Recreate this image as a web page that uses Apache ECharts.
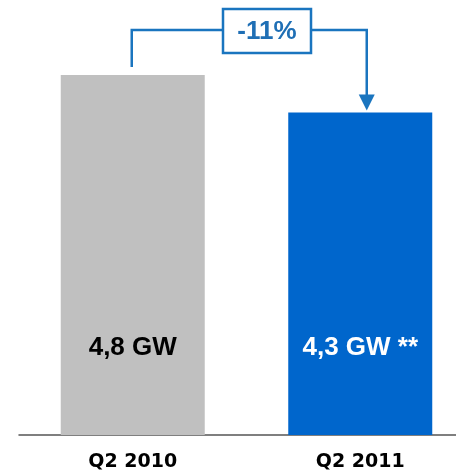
<!DOCTYPE html>
<html><head><meta charset="utf-8">
<script src="https://cdn.jsdelivr.net/npm/echarts@6/dist/echarts.min.js"></script>
<style>html,body{margin:0;padding:0;background:#fff}#c{width:456px;height:472px}</style>
</head><body><div id="c"></div>
<script>
var categories = ['Q2 2010', 'Q2 2011'];
var values = [4.8, 4.3];
var barColors = ['#c0c0c0', '#0066cc'];
var labelColors = ['#000000', '#ffffff'];
var labelSuffix = ['', ' **'];
var changeLabel = '-11%';

var chart = echarts.init(document.getElementById('c'));
var FONT = '"Liberation Sans", Arial, sans-serif';
chart.setOption({
  animation: false,
  grid: {left: 19, width: 455, top: 0, bottom: 37, outerBoundsMode: 'none', containLabel: false},
  xAxis: {
    type: 'category', data: categories,
    axisLine: {lineStyle: {color: '#555555', width: 1.5}},
    axisTick: {show: false},
    axisLabel: {color: '#000', fontFamily: '"DejaVu Sans", sans-serif', fontWeight: 'bold', fontSize: 19, margin: 18}
  },
  yAxis: {type: 'value', min: 0, max: 5.8, show: false, splitLine: {show: false}},
  series: [{
    type: 'bar', barWidth: 144,
    data: values.map(function (v, i) {
      return {value: v, itemStyle: {color: barColors[i]},
        label: {color: labelColors[i], formatter: String(v).replace('.', ',') + ' GW' + labelSuffix[i]}};
    }),
    label: {show: true, position: 'insideBottom', distance: 74, fontFamily: FONT, fontWeight: 'bold', fontSize: 26}
  }]
});

var p0 = chart.convertToPixel({xAxisIndex: 0, yAxisIndex: 0}, [0, values[0]]);
var p1 = chart.convertToPixel({xAxisIndex: 0, yAxisIndex: 0}, [1, values[1]]);
var lc = '#1a75bf';
var xl = p0[0] - 1, xr = p1[0] + 6.5, yTop = 30;
var boxL = 223, boxR = 311, boxT = 9, boxB = 53;
chart.setOption({
  graphic: [
    {type: 'polyline', shape: {points: [[xl, p0[1] - 8], [xl, yTop], [boxL, yTop]]}, style: {stroke: lc, lineWidth: 2.5, fill: null}},
    {type: 'polyline', shape: {points: [[boxR, yTop], [xr, yTop], [xr, p1[1] - 16]]}, style: {stroke: lc, lineWidth: 2.5, fill: null}},
    {type: 'polygon', shape: {points: [[xr - 8, p1[1] - 18], [xr + 8, p1[1] - 18], [xr, p1[1] - 2]]}, style: {fill: lc}},
    {type: 'rect', shape: {x: boxL, y: boxT, width: boxR - boxL, height: boxB - boxT}, style: {stroke: lc, lineWidth: 2.5, fill: '#fff'}},
    {type: 'text', x: (boxL + boxR) / 2, y: (boxT + boxB) / 2 + 1, style: {text: changeLabel, fill: '#1f6fb5', font: 'bold 26px ' + FONT, align: 'center', verticalAlign: 'middle'}}
  ]
});
</script></body></html>
